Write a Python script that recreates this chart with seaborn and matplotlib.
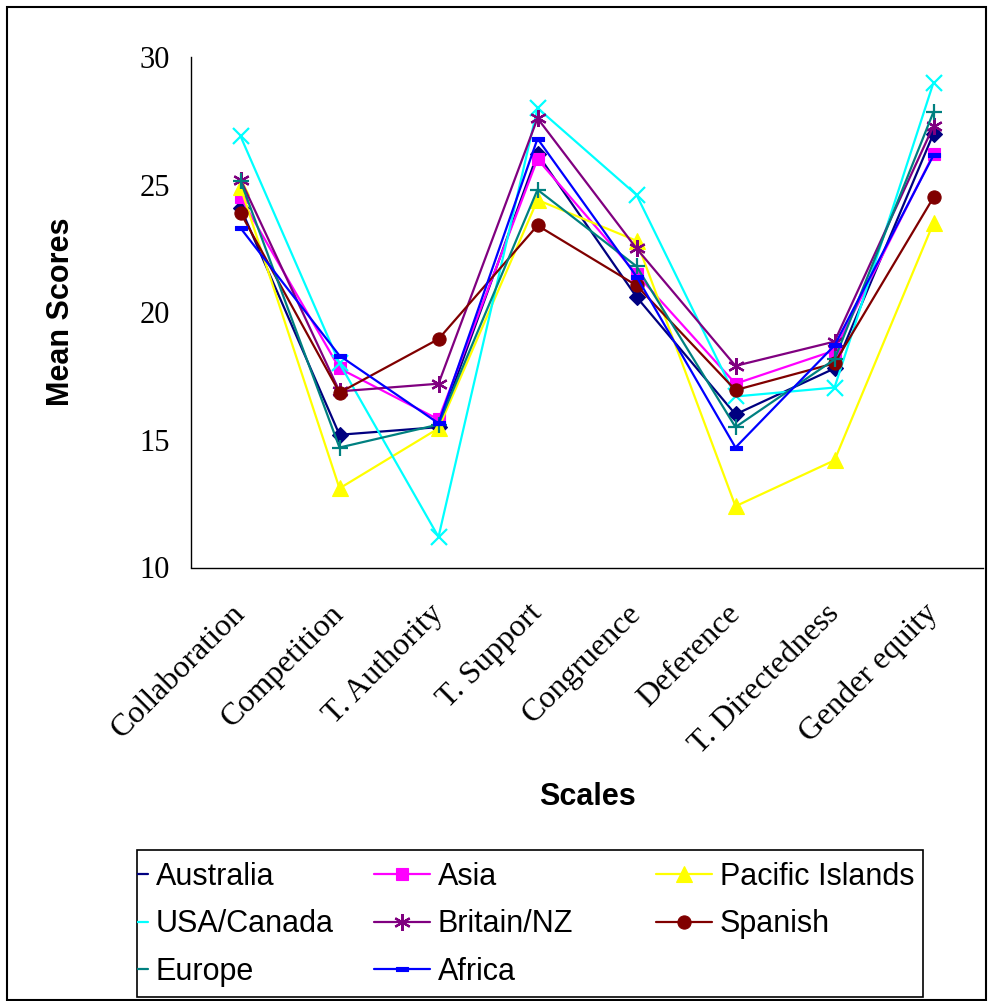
import pandas as pd
import numpy as np
import matplotlib
matplotlib.use('Agg')
import matplotlib.pyplot as plt
import seaborn as sns
from matplotlib.patches import Rectangle

# 数据
scales = ['Collaboration', 'Competition', 'T. Authority', 'T. Support',
          'Congruence', 'Deference', 'T. Directedness', 'Gender equity']
australia = [24.1, 15.2, 15.5, 26.2, 20.6, 16.0, 17.8, 27.0]
asia = [24.5, 17.8, 15.8, 26.0, 21.5, 17.2, 18.5, 26.2]
pacific = [24.9, 13.1, 15.45, 24.4, 22.8, 12.4, 14.2, 23.5]
usa = [26.9, 18.0, 11.2, 28.0, 24.6, 16.7, 17.05, 29.0]
britain = [25.2, 16.9, 17.2, 27.6, 22.5, 17.9, 18.85, 27.3]
spanish = [23.9, 16.85, 18.95, 23.4, 21.05, 16.95, 18.0, 24.5]
europe = [25.15, 14.7, 15.6, 24.8, 21.8, 15.5, 18.15, 27.85]
africa = [23.3, 18.3, 15.65, 26.8, 21.4, 14.7, 18.7, 26.15]

regions = ['Australia', 'Asia', 'Pacific Islands', 'USA/Canada',
           'Britain/NZ', 'Spanish', 'Europe', 'Africa']
series = [australia, asia, pacific, usa, britain, spanish, europe, africa]

colors = {'Australia': '#000080', 'Asia': '#FF00FF', 'Pacific Islands': '#FFFF00',
          'USA/Canada': '#00FFFF', 'Britain/NZ': '#800080', 'Spanish': '#800000',
          'Europe': '#008080', 'Africa': '#0000FF'}
dash = [(-1, -0.35), (1, -0.35), (1, 0.35), (-1, 0.35), (-1, -0.35)]
markers = {'Australia': 'D', 'Asia': 's', 'Pacific Islands': '^', 'USA/Canada': 'x',
           'Britain/NZ': (6, 2, 0), 'Spanish': 'o', 'Europe': '+', 'Africa': dash}
msizes = {'Australia': 8, 'Asia': 9, 'Pacific Islands': 11, 'USA/Canada': 11,
          'Britain/NZ': 12, 'Spanish': 9.5, 'Europe': 12, 'Africa': 9}

rows = []
for name, vals in zip(regions, series):
    for i, v in enumerate(vals):
        rows.append({'region': name, 'x': i, 'score': v})
df = pd.DataFrame(rows)

sns.set_style('white')
plt.rcParams['font.family'] = ['Liberation Sans', 'DejaVu Sans']
plt.rcParams['text.color'] = 'black'
plt.rcParams['axes.labelcolor'] = 'black'
plt.rcParams['xtick.color'] = 'black'
plt.rcParams['ytick.color'] = 'black'

fig = plt.figure(figsize=(9.88, 10.01), dpi=100)
ax = fig.add_axes([191 / 988, 1 - 567.5 / 1001, 792 / 988, 510.5 / 1001])

sns.lineplot(data=df, x='x', y='score', hue='region', hue_order=regions,
             palette=colors, linewidth=1.6, sort=False, legend=False, ax=ax)

inv = {matplotlib.colors.to_hex(c).lower(): k for k, c in colors.items()}
line_of = {}
for ln in ax.lines:
    name = inv.get(matplotlib.colors.to_hex(ln.get_color()).lower())
    if name is None:
        continue
    c = colors[name]
    ln.set_marker(markers[name])
    ln.set_markeredgecolor(c)
    ln.set_markerfacecolor(c)
    ln.set_markersize(msizes[name])
    ln.set_markeredgewidth(1.6 if name in ('USA/Canada', 'Britain/NZ', 'Europe') else 0.8)
    ln.set_label(name)
    line_of[name] = ln

ax.set_xlim(-0.5, 7.5)
ax.set_ylim(10, 30)
ax.set_yticks([10, 15, 20, 25, 30])
ax.set_xticks(range(len(scales)))
ax.set_xticklabels(scales, rotation=45, ha='right', va='center', rotation_mode='anchor',
                   family='Liberation Serif', fontsize=23)
ax.set_xticks(np.arange(-0.5, 8, 1), minor=True)
ax.tick_params(axis='x', which='major', length=0, pad=30)
ax.tick_params(axis='x', which='minor', length=7, width=1, direction='out', color='black')
ax.tick_params(axis='y', length=7, width=1, direction='out', color='black', pad=8)
for t in ax.get_yticklabels():
    t.set_family('Liberation Serif')
    t.set_fontsize(22)

for s in ['top', 'right']:
    ax.spines[s].set_visible(False)
for s in ['left', 'bottom']:
    ax.spines[s].set_color('black')
    ax.spines[s].set_linewidth(1)

ax.set_xlabel('Scales', fontsize=22, fontweight='bold')
ax.set_ylabel('Mean Scores', fontsize=22, fontweight='bold')
ax.xaxis.set_label_coords(0.501, -0.42)
ax.yaxis.set_label_coords(-0.145, 0.5)

# 图框
fig.patches.append(Rectangle((7 / 988, 1 / 1001), 979 / 988, 993 / 1001, transform=fig.transFigure,
                             fill=False, edgecolor='black', linewidth=1.5))
box = Rectangle((137 / 988, 1 - 997 / 1001), 786 / 988, 147 / 1001, transform=fig.transFigure,
                fill=False, edgecolor='black', linewidth=1.2)
fig.patches.append(box)

# 图例：三列
cols = [['Australia', 'USA/Canada', 'Europe'],
        ['Asia', 'Britain/NZ', 'Africa'],
        ['Pacific Islands', 'Spanish']]
col_x = [92, 374, 656]
for k, names in enumerate(cols):
    hs = [line_of[n] for n in names]
    y_top = 862
    leg = fig.legend(hs, names, loc='upper left', bbox_to_anchor=(col_x[k] / 988, 1 - y_top / 1001),
                     frameon=False, fontsize=22, handlelength=1.83, handletextpad=0.26,
                     borderpad=0, borderaxespad=0, labelspacing=0.57)
    for ln in leg.get_lines():
        ln.set_clip_path(box)

fig.savefig('out.png', dpi=100)
